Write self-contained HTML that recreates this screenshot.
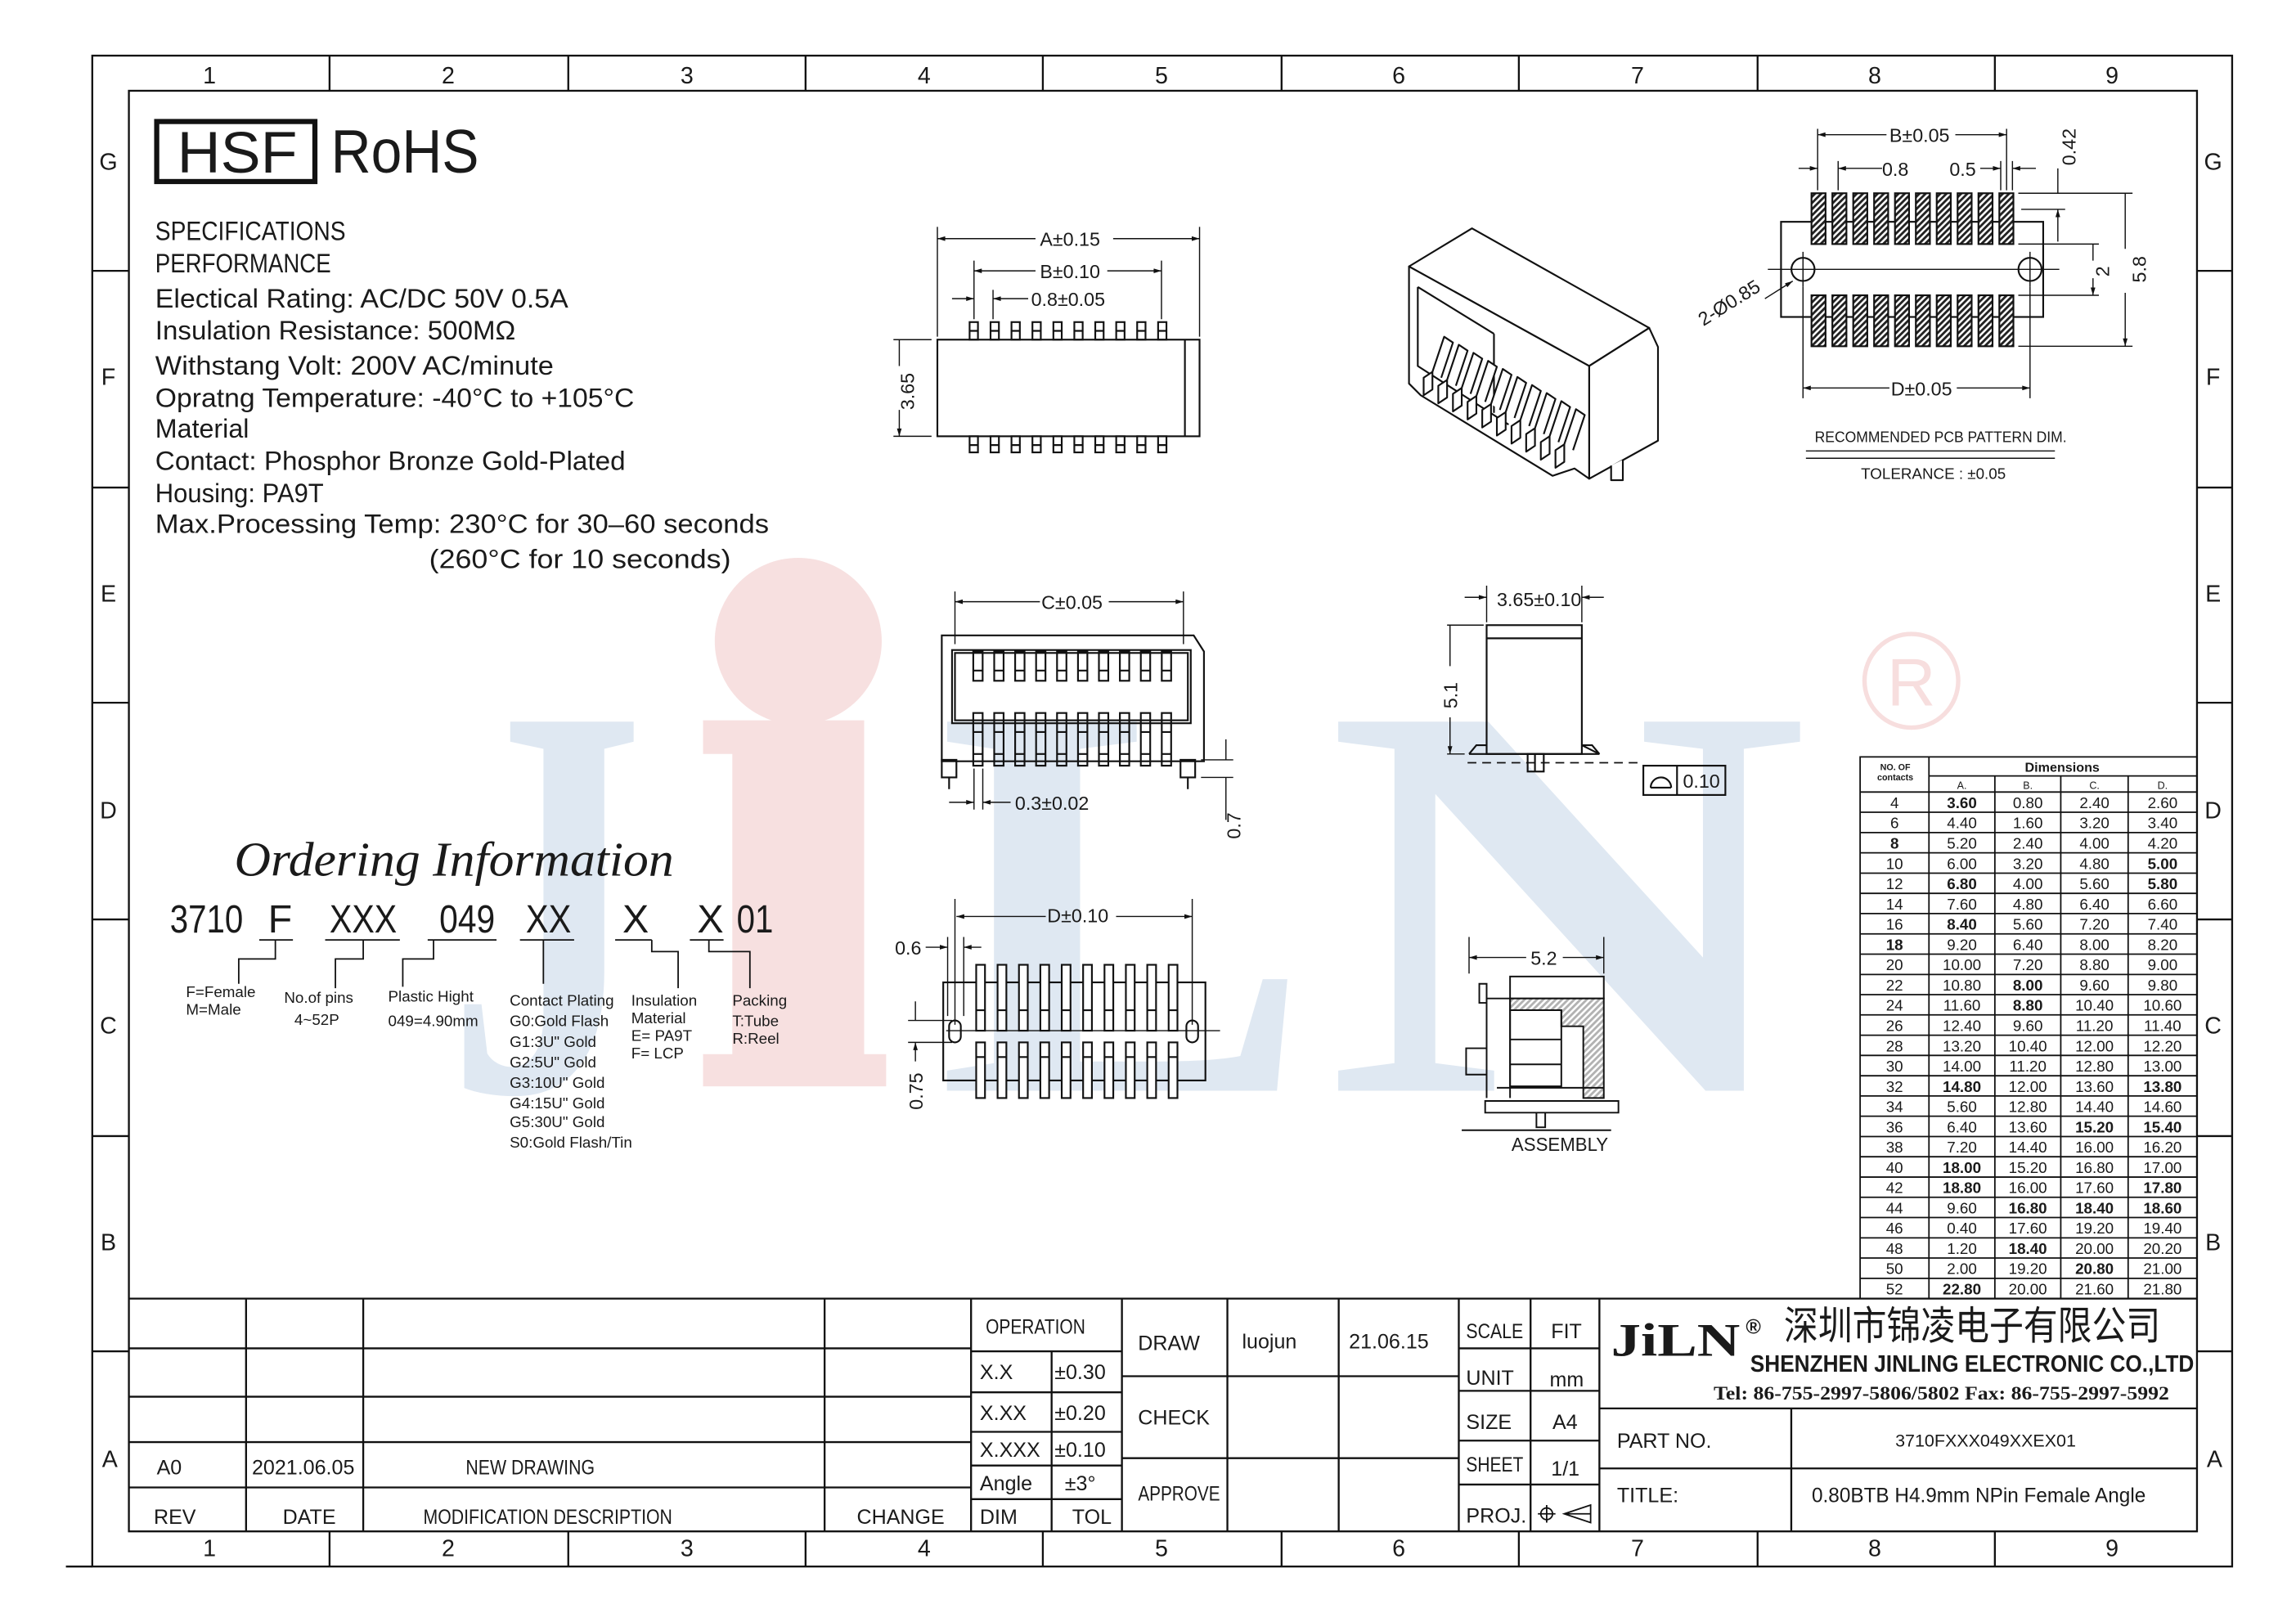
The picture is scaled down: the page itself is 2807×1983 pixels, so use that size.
<!DOCTYPE html>
<html><head><meta charset="utf-8"><style>
html,body{margin:0;padding:0;background:#fff;}
svg{display:block;}
text{font-family:"Liberation Sans","Noto Sans CJK SC",sans-serif;fill:#1a1a1a;}
.b{font-weight:bold;}
</style></head><body>
<svg width="2807" height="1983" viewBox="0 0 1567.6 1107.9" preserveAspectRatio="none" xmlns="http://www.w3.org/2000/svg">
<defs>
<pattern id="h" width="3" height="3" patternUnits="userSpaceOnUse" patternTransform="rotate(45)"><rect width="3" height="3" fill="#fff"/><rect width="1.6" height="3" fill="#222"/></pattern>
<marker id="ar" viewBox="0 0 10 6" refX="10" refY="3" markerWidth="9" markerHeight="4" orient="auto-start-reverse"><path d="M0,0L10,3L0,6z" fill="#111"/></marker>
</defs>
<rect width="1567.6" height="1107.9" fill="#fff"/>
<!-- watermark -->
<g>
<text x="305" y="745" font-size="385" textLength="135" lengthAdjust="spacingAndGlyphs" style="fill:#dfe8f2;font-family:'Liberation Serif',serif;font-weight:bold">J</text>
<circle cx="545" cy="438" r="57" fill="#f7e0e0"/>
<path d="M480,492H590V720H605V742H480V720H500V515H480Z" fill="#f7e0e0"/>
<text x="640" y="745" font-size="385" textLength="255" lengthAdjust="spacingAndGlyphs" style="fill:#dfe8f2;font-family:'Liberation Serif',serif;font-weight:bold">L</text>
<text x="905" y="745" font-size="385" textLength="330" lengthAdjust="spacingAndGlyphs" style="fill:#dfe8f2;font-family:'Liberation Serif',serif;font-weight:bold">N</text>
<circle cx="1305" cy="465" r="32" fill="none" stroke="#f7dede" stroke-width="3"/>
<text x="1305" y="482" text-anchor="middle" font-size="46" style="fill:#f7dede">R</text>
</g>

<g fill="none" stroke="#111" stroke-width="1.3">
<rect x="63" y="38" width="1461" height="1032"/>
<rect x="88" y="62" width="1412" height="984"/>
<path d="M225,38V62M388,38V62M550,38V62M712,38V62M875,38V62M1037,38V62M1200,38V62M1362,38V62
M225,1046V1070M388,1046V1070M550,1046V1070M712,1046V1070M875,1046V1070M1037,1046V1070M1200,1046V1070M1362,1046V1070
M63,185H88M63,333H88M63,480H88M63,628H88M63,776H88M63,923H88
M1500,185H1524M1500,333H1524M1500,480H1524M1500,628H1524M1500,776H1524M1500,923H1524M45,1070H63"/>
</g>
<g font-size="16" text-anchor="middle">
<text x="143" y="57">1</text><text x="306" y="57">2</text><text x="469" y="57">3</text><text x="631" y="57">4</text><text x="793" y="57">5</text><text x="955" y="57">6</text><text x="1118" y="57">7</text><text x="1280" y="57">8</text><text x="1442" y="57">9</text>
<text x="143" y="1063">1</text><text x="306" y="1063">2</text><text x="469" y="1063">3</text><text x="631" y="1063">4</text><text x="793" y="1063">5</text><text x="955" y="1063">6</text><text x="1118" y="1063">7</text><text x="1280" y="1063">8</text><text x="1442" y="1063">9</text>
<text x="74" y="116">G</text><text x="74" y="263">F</text><text x="74" y="411">E</text><text x="74" y="559">D</text><text x="74" y="706">C</text><text x="74" y="854">B</text><text x="75" y="1002">A</text>
<text x="1511" y="116">G</text><text x="1511" y="263">F</text><text x="1511" y="411">E</text><text x="1511" y="559">D</text><text x="1511" y="706">C</text><text x="1511" y="854">B</text><text x="1512" y="1002">A</text>
</g>

<!-- HSF RoHS -->
<rect x="107" y="83" width="108" height="41" fill="none" stroke="#111" stroke-width="3.5"/>
<text x="121" y="118" font-size="40" textLength="82" lengthAdjust="spacingAndGlyphs">HSF</text>
<text x="226" y="118" font-size="42" textLength="101" lengthAdjust="spacingAndGlyphs">RoHS</text>

<g font-size="18" style="fill:#333">
<text x="106" y="164" textLength="130" lengthAdjust="spacingAndGlyphs">SPECIFICATIONS</text>
<text x="106" y="186" textLength="120" lengthAdjust="spacingAndGlyphs">PERFORMANCE</text>
<text x="106" y="210" textLength="282" lengthAdjust="spacingAndGlyphs">Electical Rating: AC/DC  50V  0.5A</text>
<text x="106" y="232" textLength="246" lengthAdjust="spacingAndGlyphs">Insulation  Resistance:    500MΩ</text>
<text x="106" y="256" textLength="272" lengthAdjust="spacingAndGlyphs">Withstang  Volt: 200V  AC/minute</text>
<text x="106" y="278" textLength="327" lengthAdjust="spacingAndGlyphs">Opratng  Temperature: -40°C  to  +105°C</text>
<text x="106" y="299" textLength="64" lengthAdjust="spacingAndGlyphs">Material</text>
<text x="106" y="321" textLength="321" lengthAdjust="spacingAndGlyphs">Contact: Phosphor  Bronze  Gold-Plated</text>
<text x="106" y="343" textLength="115" lengthAdjust="spacingAndGlyphs">Housing: PA9T</text>
<text x="106" y="364" textLength="419" lengthAdjust="spacingAndGlyphs">Max.Processing  Temp:  230°C  for  30–60  seconds</text>
<text x="293" y="388" textLength="206" lengthAdjust="spacingAndGlyphs">(260°C  for  10  seconds)</text>
</g>

<!-- Ordering -->
<text x="160" y="598" font-size="33" textLength="300" lengthAdjust="spacingAndGlyphs" style="font-family:'Liberation Serif',serif;font-style:italic">Ordering Information</text>
<g font-size="27">
<text x="116" y="637" textLength="50" lengthAdjust="spacingAndGlyphs">3710</text>
<text x="183" y="637">F</text>
<text x="225" y="637" textLength="46" lengthAdjust="spacingAndGlyphs">XXX</text>
<text x="300" y="637" textLength="38" lengthAdjust="spacingAndGlyphs">049</text>
<text x="359" y="637" textLength="31" lengthAdjust="spacingAndGlyphs">XX</text>
<text x="425" y="637">X</text>
<text x="476" y="637">X</text>
<text x="503" y="637" textLength="25" lengthAdjust="spacingAndGlyphs">01</text>
</g>
<g fill="none" stroke="#111" stroke-width="1">
<path d="M177,642H200M222,642H273M292,642H339M355,642H392M420,642H445M471,642H494"/>
<path d="M188,642V655H163V672M248,642V655H229V675M296,642V655H275V674M371,642V672M445,642V650H463V675M484,642V650H512V675"/>
</g>
<g font-size="10.5">
<text x="127" y="681">F=Female</text><text x="127" y="693">M=Male</text>
<text x="194" y="685">No.of  pins</text><text x="201" y="700">4~52P</text>
<text x="265" y="684">Plastic  Hight</text><text x="265" y="701">049=4.90mm</text>
<text x="348" y="687">Contact  Plating</text>
<text x="348" y="701">G0:Gold  Flash</text>
<text x="348" y="715">G1:3U"  Gold</text>
<text x="348" y="729">G2:5U"  Gold</text>
<text x="348" y="743">G3:10U"  Gold</text>
<text x="348" y="757">G4:15U"  Gold</text>
<text x="348" y="770">G5:30U"  Gold</text>
<text x="348" y="784">S0:Gold  Flash/Tin</text>
<text x="431" y="687">Insulation</text><text x="431" y="699">Material</text><text x="431" y="711">E=  PA9T</text><text x="431" y="723">F=  LCP</text>
<text x="500" y="687">Packing</text><text x="500" y="701">T:Tube</text><text x="500" y="713">R:Reel</text>
</g>

<!-- Top view A -->
<g fill="none" stroke="#111" stroke-width="1.2">
<rect x="640" y="232" width="179" height="66"/>
<path d="M809,232V298"/>
<g id="tp"><rect x="662" y="220" width="5.7" height="12"/><rect x="662" y="298" width="5.7" height="11"/><path d="M662,226h5.7M662,304h5.7"/></g>
<use href="#tp" x="14.3"/><use href="#tp" x="28.6"/><use href="#tp" x="42.9"/><use href="#tp" x="57.2"/><use href="#tp" x="71.5"/><use href="#tp" x="85.8"/><use href="#tp" x="100.1"/><use href="#tp" x="114.4"/><use href="#tp" x="128.7"/>
<path stroke-width="0.8" d="M640,230V155M819,230V155M665,218V178M793,218V178M678,218V198M610,232H636M610,298H636"/>
<path stroke-width="0.8" d="M640,163H707M760,163H819" marker-start="url(#ar)" marker-end="url(#ar)"/>
<path stroke-width="0.8" d="M665,185H707M756,185H793" marker-start="url(#ar)" marker-end="url(#ar)"/>
<path stroke-width="0.8" d="M650,204H665" marker-end="url(#ar)"/><path stroke-width="0.8" d="M702,204H678" marker-end="url(#ar)"/>
<path stroke-width="0.8" d="M614,250V232M614,280V298" marker-end="url(#ar)"/>
</g>
<g font-size="13">
<text x="710" y="168">A±0.15</text><text x="710" y="190">B±0.10</text><text x="704" y="209">0.8±0.05</text>
<text transform="translate(624,280) rotate(-90)">3.65</text>
</g>

<!-- Iso view -->
<g fill="#fff" stroke="#111" stroke-width="1.2" stroke-linejoin="round">
<path d="M962,182L1005,156L1126,224L1085,250Z"/>
<path d="M1085,250L1126,224L1132,237V301L1085,327Z"/>
<path d="M962,182L1085,250V327L1075,320L1060,325L970,270L962,262Z"/>
<path fill="none" d="M968,196V250L1030,290M968,196L1020,228M1020,228V282"/>
<g id="ip"><path d="M972,258l6,-4v12l-6,4zM978,254l8,-24l6,4l-8,24"/></g>
<use href="#ip" x="10" y="5.5"/><use href="#ip" x="20" y="11"/><use href="#ip" x="30" y="16.5"/><use href="#ip" x="40" y="22"/><use href="#ip" x="50" y="27.5"/><use href="#ip" x="60" y="33"/><use href="#ip" x="70" y="38.5"/><use href="#ip" x="80" y="44"/><use href="#ip" x="90" y="49.5"/>
<path d="M1100,318v10h8v-14"/>
</g>

<!-- PCB pattern -->
<g fill="none" stroke="#111" stroke-width="1.2">
<rect x="1216" y="151.5" width="179" height="65"/>
<circle cx="1231" cy="184" r="7.9" fill="#fff"/><circle cx="1386" cy="184" r="7.9" fill="#fff"/>
<path stroke-width="0.8" d="M1207,184H1406M1231,172V196M1386,172V196"/>
<g id="pd"><rect x="1236.8" y="132" width="9.6" height="34.7" fill="url(#h)"/><rect x="1236.8" y="201.7" width="9.6" height="34.8" fill="url(#h)"/></g>
<use href="#pd" x="14.25"/><use href="#pd" x="28.5"/><use href="#pd" x="42.75"/><use href="#pd" x="57"/><use href="#pd" x="71.25"/><use href="#pd" x="85.5"/><use href="#pd" x="99.75"/><use href="#pd" x="114"/><use href="#pd" x="128.25"/>
<path stroke-width="0.8" d="M1241,88V130M1370,88V130M1255,110V130M1366,110V130M1374,110V130M1378,132H1456M1378,236.5H1456M1378,166.7H1433M1378,201.7H1433M1380,143H1410M1231,196V272M1386,196V272"/>
<path stroke-width="0.8" d="M1241,92H1288M1335,92H1370" marker-start="url(#ar)" marker-end="url(#ar)"/>
<path stroke-width="0.8" d="M1228,115H1241" marker-end="url(#ar)"/><path stroke-width="0.8" d="M1285,115H1255" marker-end="url(#ar)"/>
<path stroke-width="0.8" d="M1352,115H1366" marker-end="url(#ar)"/><path stroke-width="0.8" d="M1390,115H1374" marker-end="url(#ar)"/>
<path stroke-width="0.8" d="M1405,115V132M1405,165V143" marker-end="url(#ar)"/>
<path stroke-width="0.8" d="M1429,178V166.7M1429,190V201.7" marker-end="url(#ar)"/>
<path stroke-width="0.8" d="M1451,170V132M1451,200V236.5" marker-end="url(#ar)"/>
<path stroke-width="0.8" d="M1231,265H1290M1336,265H1386" marker-start="url(#ar)" marker-end="url(#ar)"/>
<path stroke-width="0.8" d="M1205,204L1224,192" marker-end="url(#ar)"/>
<path stroke-width="0.8" d="M1233,308H1403M1233,313H1403"/>
</g>
<g font-size="13">
<text x="1290" y="97">B±0.05</text><text x="1285" y="120">0.8</text><text x="1331" y="120">0.5</text>
<text transform="translate(1417,113) rotate(-90)">0.42</text>
<text transform="translate(1440,189) rotate(-90)">2</text>
<text transform="translate(1465,193) rotate(-90)">5.8</text>
<text x="1291" y="270">D±0.05</text>
<text transform="translate(1163,223) rotate(-32)">2-Ø0.85</text>
<text x="1325" y="302" font-size="10.5" text-anchor="middle" textLength="172" lengthAdjust="spacingAndGlyphs">RECOMMENDED  PCB  PATTERN  DIM.</text>
<text x="1320" y="327" font-size="10.5" text-anchor="middle">TOLERANCE  :  ±0.05</text>
</g>

<!-- C view -->
<g fill="none" stroke="#111" stroke-width="1.2">
<path d="M643,434H815L822,445V520H643Z"/>
<rect x="650" y="444" width="163" height="50"/><rect x="652" y="446" width="159" height="46"/>
<g id="cp"><rect x="664.5" y="445" width="6.4" height="20"/><rect x="664.5" y="487" width="6.4" height="36"/><path d="M664.5,458h6.4M664.5,500h6.4M664.5,515h6.4"/></g>
<use href="#cp" x="14.3"/><use href="#cp" x="28.6"/><use href="#cp" x="42.9"/><use href="#cp" x="57.2"/><use href="#cp" x="71.5"/><use href="#cp" x="85.8"/><use href="#cp" x="100.1"/><use href="#cp" x="114.4"/><use href="#cp" x="128.7"/>
<rect x="643" y="519" width="10" height="12"/><rect x="806" y="519" width="10" height="12"/><path d="M648,531v8M811,531v8"/>
<path stroke-width="0.8" d="M652,440V404M808,440V404M665,525V553M671,525V553M820,519H842M820,531H842M837,505V519M837,531V560"/>
<path stroke-width="0.8" d="M652,411H710M757,411H808" marker-start="url(#ar)" marker-end="url(#ar)"/>
<path stroke-width="0.8" d="M648,548H665" marker-end="url(#ar)"/><path stroke-width="0.8" d="M690,548H671" marker-end="url(#ar)"/>
</g>
<g font-size="13"><text x="711" y="416">C±0.05</text><text x="693" y="553">0.3±0.02</text><text transform="translate(847,573) rotate(-90)">0.7</text></g>

<!-- side view -->
<g fill="none" stroke="#111" stroke-width="1.2">
<rect x="1015" y="427" width="65" height="88"/><path d="M1015,436H1080"/>
<path d="M1003,515L1008,509H1015M1080,509H1087L1092,515Z" />
<path d="M1003,515H1092"/>
<rect x="1043" y="515" width="11" height="12"/><path d="M1048,515v12"/>
<path stroke-dasharray="6,4" stroke-width="1" d="M1002,521H1120"/>
<path stroke-width="0.8" d="M1015,425V400M1080,425V400M988,427H1013M988,515H1000"/>
<path stroke-width="0.8" d="M1000,408H1015" marker-end="url(#ar)"/><path stroke-width="0.8" d="M1095,408H1080" marker-end="url(#ar)"/>
<path stroke-width="0.8" d="M990,455V427M990,490V515" marker-end="url(#ar)"/>
<rect x="1122" y="523" width="56" height="20"/><path d="M1145,523V543M1127,538h14M1127,538a7,7 0 0 1 14,0"/>
</g>
<g font-size="13"><text x="1022" y="414">3.65±0.10</text><text transform="translate(995,484) rotate(-90)">5.1</text><text x="1149" y="538">0.10</text></g>

<!-- D view -->
<g fill="none" stroke="#111" stroke-width="1.2">
<rect x="644" y="671" width="179" height="67"/>
<g id="dp"><rect x="666.5" y="659" width="6" height="45" fill="#fff"/><rect x="666.5" y="712" width="6" height="38" fill="#fff"/><path d="M666.5,690h6M666.5,722h6"/></g>
<use href="#dp" x="14.6"/><use href="#dp" x="29.2"/><use href="#dp" x="43.8"/><use href="#dp" x="58.4"/><use href="#dp" x="73"/><use href="#dp" x="87.6"/><use href="#dp" x="102.2"/><use href="#dp" x="116.8"/><use href="#dp" x="131.4"/>
<rect x="648" y="697" width="8" height="15" rx="4"/><rect x="810" y="697" width="8" height="15" rx="4"/>
<path stroke-width="0.8" d="M646,704H833M652,700V614M814,700V614M647,694V640M658,694V640M620,697H650M620,712H650"/>
<path stroke-width="0.8" d="M653,626H714M762,626H814" marker-start="url(#ar)" marker-end="url(#ar)"/>
<path stroke-width="0.8" d="M632,647H647" marker-end="url(#ar)"/><path stroke-width="0.8" d="M670,647H658" marker-end="url(#ar)"/>
<path stroke-width="0.8" d="M625,684V697M625,725V712" marker-end="url(#ar)"/>
</g>
<g font-size="13"><text x="715" y="630">D±0.10</text><text x="611" y="652">0.6</text><text transform="translate(630,758) rotate(-90)">0.75</text></g>

<!-- Assembly -->
<g fill="none" stroke="#111" stroke-width="1.1">
<rect x="1031" y="667" width="64" height="15"/>
<path d="M1031,682H1095V750H1081V701H1066V690H1031Z" fill="url(#h)" fill-opacity="0.35"/>
<rect x="1031" y="690" width="35" height="52"/><path d="M1031,710H1066M1031,727H1066"/>
<path d="M1010,672h5v13h-5zM1015,682H1031V750M1015,682V750M1001,716h14v18h-14z"/>
<path d="M1022,743H1095M1014,752V760H1105V752Z"/>
<path d="M1049,760v10h6v-10"/>
<path d="M998,772H1100"/>
<path stroke-width="0.8" d="M1003,665V640M1095,665V640"/>
<path stroke-width="0.8" d="M1003,654H1042M1067,654H1095" marker-start="url(#ar)" marker-end="url(#ar)"/>
</g>
<g font-size="13"><text x="1045" y="659">5.2</text><text x="1032" y="786" textLength="66" lengthAdjust="spacingAndGlyphs">ASSEMBLY</text></g>

<!-- Dimension table -->
<g fill="none" stroke="#111" stroke-width="1">
<rect x="1270" y="517" width="230" height="370"/>
<path d="M1317,530H1500M1270,541H1500M1317,517V887M1362,530V887M1407,530V887M1453,530V887"/>
<path d="M1270,554.8H1500M1270,568.7H1500M1270,582.5H1500M1270,596.4H1500M1270,610.2H1500M1270,624H1500M1270,637.9H1500M1270,651.7H1500M1270,665.6H1500M1270,679.4H1500M1270,693.2H1500M1270,707.1H1500M1270,720.9H1500M1270,734.8H1500M1270,748.6H1500M1270,762.4H1500M1270,776.3H1500M1270,790.1H1500M1270,804H1500M1270,817.8H1500M1270,831.6H1500M1270,845.5H1500M1270,859.3H1500M1270,873.2H1500"/>
</g>
<g text-anchor="middle" font-size="10.5">
<text x="1294" y="526" font-size="6" class="b">NO. OF</text><text x="1294" y="533" font-size="6" class="b">contacts</text>
<text x="1408" y="527" font-size="9" class="b">Dimensions</text>
<g font-size="7"><text x="1339.5" y="539">A.</text><text x="1384.5" y="539">B.</text><text x="1430" y="539">C.</text><text x="1476.5" y="539">D.</text></g>
<text y="552"><tspan x="1293.5">4</tspan><tspan x="1339.5" class="b">3.60</tspan><tspan x="1384.5">0.80</tspan><tspan x="1430">2.40</tspan><tspan x="1476.5">2.60</tspan></text>
<text y="565.8"><tspan x="1293.5">6</tspan><tspan x="1339.5">4.40</tspan><tspan x="1384.5">1.60</tspan><tspan x="1430">3.20</tspan><tspan x="1476.5">3.40</tspan></text>
<text y="579.7"><tspan x="1293.5" class="b">8</tspan><tspan x="1339.5">5.20</tspan><tspan x="1384.5">2.40</tspan><tspan x="1430">4.00</tspan><tspan x="1476.5">4.20</tspan></text>
<text y="593.5"><tspan x="1293.5">10</tspan><tspan x="1339.5">6.00</tspan><tspan x="1384.5">3.20</tspan><tspan x="1430">4.80</tspan><tspan x="1476.5" class="b">5.00</tspan></text>
<text y="607.4"><tspan x="1293.5">12</tspan><tspan x="1339.5" class="b">6.80</tspan><tspan x="1384.5">4.00</tspan><tspan x="1430">5.60</tspan><tspan x="1476.5" class="b">5.80</tspan></text>
<text y="621.2"><tspan x="1293.5">14</tspan><tspan x="1339.5">7.60</tspan><tspan x="1384.5">4.80</tspan><tspan x="1430">6.40</tspan><tspan x="1476.5">6.60</tspan></text>
<text y="635"><tspan x="1293.5">16</tspan><tspan x="1339.5" class="b">8.40</tspan><tspan x="1384.5">5.60</tspan><tspan x="1430">7.20</tspan><tspan x="1476.5">7.40</tspan></text>
<text y="648.9"><tspan x="1293.5" class="b">18</tspan><tspan x="1339.5">9.20</tspan><tspan x="1384.5">6.40</tspan><tspan x="1430">8.00</tspan><tspan x="1476.5">8.20</tspan></text>
<text y="662.7"><tspan x="1293.5">20</tspan><tspan x="1339.5">10.00</tspan><tspan x="1384.5">7.20</tspan><tspan x="1430">8.80</tspan><tspan x="1476.5">9.00</tspan></text>
<text y="676.6"><tspan x="1293.5">22</tspan><tspan x="1339.5">10.80</tspan><tspan x="1384.5" class="b">8.00</tspan><tspan x="1430">9.60</tspan><tspan x="1476.5">9.80</tspan></text>
<text y="690.4"><tspan x="1293.5">24</tspan><tspan x="1339.5">11.60</tspan><tspan x="1384.5" class="b">8.80</tspan><tspan x="1430">10.40</tspan><tspan x="1476.5">10.60</tspan></text>
<text y="704.2"><tspan x="1293.5">26</tspan><tspan x="1339.5">12.40</tspan><tspan x="1384.5">9.60</tspan><tspan x="1430">11.20</tspan><tspan x="1476.5">11.40</tspan></text>
<text y="718.1"><tspan x="1293.5">28</tspan><tspan x="1339.5">13.20</tspan><tspan x="1384.5">10.40</tspan><tspan x="1430">12.00</tspan><tspan x="1476.5">12.20</tspan></text>
<text y="731.9"><tspan x="1293.5">30</tspan><tspan x="1339.5">14.00</tspan><tspan x="1384.5">11.20</tspan><tspan x="1430">12.80</tspan><tspan x="1476.5">13.00</tspan></text>
<text y="745.8"><tspan x="1293.5">32</tspan><tspan x="1339.5" class="b">14.80</tspan><tspan x="1384.5">12.00</tspan><tspan x="1430">13.60</tspan><tspan x="1476.5" class="b">13.80</tspan></text>
<text y="759.6"><tspan x="1293.5">34</tspan><tspan x="1339.5">5.60</tspan><tspan x="1384.5">12.80</tspan><tspan x="1430">14.40</tspan><tspan x="1476.5">14.60</tspan></text>
<text y="773.4"><tspan x="1293.5">36</tspan><tspan x="1339.5">6.40</tspan><tspan x="1384.5">13.60</tspan><tspan x="1430" class="b">15.20</tspan><tspan x="1476.5" class="b">15.40</tspan></text>
<text y="787.3"><tspan x="1293.5">38</tspan><tspan x="1339.5">7.20</tspan><tspan x="1384.5">14.40</tspan><tspan x="1430">16.00</tspan><tspan x="1476.5">16.20</tspan></text>
<text y="801.1"><tspan x="1293.5">40</tspan><tspan x="1339.5" class="b">18.00</tspan><tspan x="1384.5">15.20</tspan><tspan x="1430">16.80</tspan><tspan x="1476.5">17.00</tspan></text>
<text y="815"><tspan x="1293.5">42</tspan><tspan x="1339.5" class="b">18.80</tspan><tspan x="1384.5">16.00</tspan><tspan x="1430">17.60</tspan><tspan x="1476.5" class="b">17.80</tspan></text>
<text y="828.8"><tspan x="1293.5">44</tspan><tspan x="1339.5">9.60</tspan><tspan x="1384.5" class="b">16.80</tspan><tspan x="1430" class="b">18.40</tspan><tspan x="1476.5" class="b">18.60</tspan></text>
<text y="842.6"><tspan x="1293.5">46</tspan><tspan x="1339.5">0.40</tspan><tspan x="1384.5">17.60</tspan><tspan x="1430">19.20</tspan><tspan x="1476.5">19.40</tspan></text>
<text y="856.5"><tspan x="1293.5">48</tspan><tspan x="1339.5">1.20</tspan><tspan x="1384.5" class="b">18.40</tspan><tspan x="1430">20.00</tspan><tspan x="1476.5">20.20</tspan></text>
<text y="870.3"><tspan x="1293.5">50</tspan><tspan x="1339.5">2.00</tspan><tspan x="1384.5">19.20</tspan><tspan x="1430" class="b">20.80</tspan><tspan x="1476.5">21.00</tspan></text>
<text y="884.2"><tspan x="1293.5">52</tspan><tspan x="1339.5" class="b">22.80</tspan><tspan x="1384.5">20.00</tspan><tspan x="1430">21.60</tspan><tspan x="1476.5">21.80</tspan></text>
</g>

<!-- Title block -->
<g fill="none" stroke="#111" stroke-width="1.3">
<path d="M88,887H1500"/>
<path d="M88,921H663M88,954H663M88,985H663M88,1016H663M168,887V1046M248,887V1046M563,887V1046M663,887V1046"/>
<path d="M663,923H766M663,951H766M663,978H766M663,1001H766M663,1024H766M718,923V1046M766,887V1046"/>
<path d="M766,940H996M766,996H996M838,887V1046M914,887V1046M996,887V1046"/>
<path d="M996,921H1092M996,950H1092M996,984H1092M996,1014H1092M1045,887V1046M1092,887V1046"/>
<path d="M1092,962H1500M1092,1003H1500M1223,962V1046"/>
</g>
<g font-size="14">
<text x="107" y="1007">A0</text><text x="172" y="1007">2021.06.05</text><text x="318" y="1007" textLength="88" lengthAdjust="spacingAndGlyphs">NEW  DRAWING</text>
<text x="105" y="1041">REV</text><text x="193" y="1041">DATE</text><text x="289" y="1041" textLength="170" lengthAdjust="spacingAndGlyphs">MODIFICATION  DESCRIPTION</text><text x="585" y="1041">CHANGE</text>
<text x="673" y="911" textLength="68" lengthAdjust="spacingAndGlyphs">OPERATION</text>
<text x="669" y="942">X.X</text><text x="720" y="942">±0.30</text>
<text x="669" y="970">X.XX</text><text x="720" y="970">±0.20</text>
<text x="669" y="995">X.XXX</text><text x="720" y="995">±0.10</text>
<text x="669" y="1018">Angle</text><text x="727" y="1018">±3°</text>
<text x="669" y="1041">DIM</text><text x="732" y="1041">TOL</text>
<text x="777" y="922">DRAW</text><text x="848" y="921">luojun</text><text x="921" y="921">21.06.15</text>
<text x="777" y="973">CHECK</text><text x="777" y="1025" textLength="56" lengthAdjust="spacingAndGlyphs">APPROVE</text>
<text x="1001" y="914" textLength="39" lengthAdjust="spacingAndGlyphs">SCALE</text><text x="1059" y="914">FIT</text>
<text x="1001" y="946">UNIT</text><text x="1058" y="947">mm</text>
<text x="1001" y="976">SIZE</text><text x="1060" y="976">A4</text>
<text x="1001" y="1005" textLength="39" lengthAdjust="spacingAndGlyphs">SHEET</text><text x="1059" y="1008">1/1</text>
<text x="1001" y="1040">PROJ.</text>
<text x="1104" y="989">PART  NO.</text><text x="1294" y="988" font-size="12">3710FXXX049XXEX01</text>
<text x="1104" y="1026">TITLE:</text><text x="1237" y="1026" textLength="228" lengthAdjust="spacingAndGlyphs">0.80BTB  H4.9mm  NPin  Female  Angle</text>
</g>
<g fill="none" stroke="#111" stroke-width="1"><circle cx="1056" cy="1034" r="4"/><path d="M1050,1034h12M1056,1028v12M1068,1034l18,-6v12zM1068,1034h18"/></g>
<text x="1100" y="926" font-size="32" textLength="88" lengthAdjust="spacingAndGlyphs" style="font-family:'Liberation Serif',serif;font-weight:bold">JiLN</text>
<text x="1192" y="911" font-size="14" class="b">®</text>
<text x="1218" y="915" font-size="27" style="font-family:'Liberation Sans','Noto Sans CJK SC',sans-serif" textLength="257" lengthAdjust="spacingAndGlyphs">深圳市锦凌电子有限公司</text>
<text x="1195" y="937" font-size="16" class="b" textLength="303" lengthAdjust="spacingAndGlyphs">SHENZHEN JINLING ELECTRONIC CO.,LTD</text>
<text x="1170" y="956" font-size="13" class="b" textLength="311" lengthAdjust="spacingAndGlyphs" style="font-family:'Liberation Serif','Noto Serif CJK SC',serif">Tel: 86-755-2997-5806/5802   Fax: 86-755-2997-5992</text>
</svg>
</body></html>
